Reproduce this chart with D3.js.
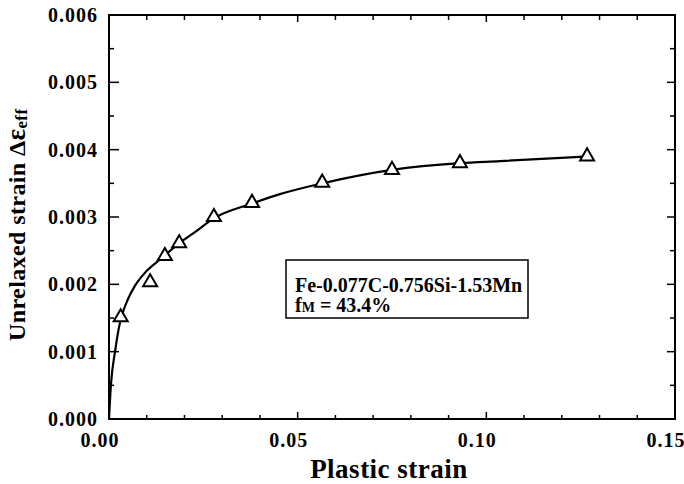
<!DOCTYPE html>
<html>
<head>
<meta charset="UTF-8">
<script src="https://d3js.org/d3.v7.min.js"></script>
<style>
  body { margin: 0; background: #fff; }
  svg { display: block; }
  text { font-family: "Liberation Serif", "Times New Roman", serif; font-weight: bold; fill: #000; }
</style>
</head>
<body>
<svg width="684" height="484"></svg>
<script>
// measured points (triangles)
const strainX = [0.0031, 0.0109, 0.0148, 0.0186, 0.0278, 0.0379, 0.0565, 0.075, 0.093, 0.1267];
const strainY = [0.00151, 0.00203, 0.00242, 0.00261, 0.0030, 0.00321, 0.00351, 0.0037, 0.0038, 0.0039];

// fitted curve
const fitX = [0, 0.0005, 0.0016, 0.0025, 0.0051, 0.0069, 0.0095, 0.0131, 0.0186, 0.0224, 0.0278, 0.0379, 0.0453, 0.0565, 0.075, 0.093, 0.1036, 0.1267];
const fitY = [0, 0.0005, 0.001, 0.00132, 0.00179, 0.00198, 0.00217, 0.00235, 0.00261, 0.00276, 0.00298, 0.0032, 0.00334, 0.0035, 0.0037, 0.0038, 0.00383, 0.0039];

const xTicks = [0, 0.05, 0.10, 0.15];
const yTicks = [0, 0.001, 0.002, 0.003, 0.004, 0.005, 0.006];
const legendLines = ["Fe-0.077C-0.756Si-1.53Mn", "= 43.4%"];

const W = 684, H = 484;
const m = { top: 15, right: 9, bottom: 65, left: 109 };
const svg = d3.select("svg");

const x = d3.scaleLinear().domain([0, 0.15]).range([m.left, W - m.right]);
const y = d3.scaleLinear().domain([0, 0.006]).range([H - m.bottom, m.top]);

const g = svg.append("g");

// ticks, all pointing inward
const xMinor = d3.range(0, 0.1501, 0.01);
const yMinor = d3.range(0, 0.00601, 0.0005);
const isMajorX = v => Math.abs(v / 0.05 - Math.round(v / 0.05)) < 1e-6;
const isMajorY = v => Math.abs(v / 0.001 - Math.round(v / 0.001)) < 1e-6;

g.selectAll(".xtb").data(xMinor).enter().append("line")
  .attr("x1", d => x(d)).attr("x2", d => x(d))
  .attr("y1", y(0)).attr("y2", d => y(0) - (isMajorX(d) ? 7 : 4))
  .attr("stroke", "#000").attr("stroke-width", 1.5);
g.selectAll(".xtt").data(xMinor).enter().append("line")
  .attr("x1", d => x(d)).attr("x2", d => x(d))
  .attr("y1", y(0.006)).attr("y2", d => y(0.006) + (isMajorX(d) ? 7 : 5))
  .attr("stroke", "#000").attr("stroke-width", 1.5);
g.selectAll(".ytl").data(yMinor).enter().append("line")
  .attr("y1", d => y(d)).attr("y2", d => y(d))
  .attr("x1", x(0)).attr("x2", d => x(0) + (isMajorY(d) ? 10 : 5))
  .attr("stroke", "#000").attr("stroke-width", 1.5);
g.selectAll(".ytr").data(yMinor).enter().append("line")
  .attr("y1", d => y(d)).attr("y2", d => y(d))
  .attr("x1", x(0.15)).attr("x2", d => x(0.15) - (isMajorY(d) ? 8 : 5))
  .attr("stroke", "#000").attr("stroke-width", 1.5);

// frame
g.append("rect")
  .attr("x", x(0)).attr("y", y(0.006))
  .attr("width", x(0.15) - x(0)).attr("height", y(0) - y(0.006))
  .attr("fill", "none").attr("stroke", "#000").attr("stroke-width", 2);

// tick labels
g.selectAll(".xl").data(xTicks).enter().append("text")
  .attr("x", d => x(d) - 9).attr("y", y(0) + 28)
  .attr("text-anchor", "middle").attr("font-size", 20).attr("letter-spacing", 1)
  .text(d => d.toFixed(2));
g.selectAll(".yl").data(yTicks).enter().append("text")
  .attr("x", x(0) - 11).attr("y", d => y(d) + 7)
  .attr("text-anchor", "end").attr("font-size", 20).attr("letter-spacing", 1)
  .text(d => d.toFixed(3));

// axis titles
svg.append("text")
  .attr("x", 389).attr("y", 478)
  .attr("text-anchor", "middle").attr("font-size", 27).attr("letter-spacing", 0.5)
  .text("Plastic strain");

const yt = svg.append("text")
  .attr("transform", "translate(25,341) rotate(-90)")
  .attr("font-size", 24).attr("letter-spacing", 0.4);
yt.append("tspan").text("Unrelaxed strain \u0394");
yt.append("tspan").attr("font-size", 27).text("\u03b5");
yt.append("tspan").attr("font-size", 17).attr("dy", 2).text("eff");

// fitted curve
const fit = fitX.map((v, i) => [v, fitY[i]]);
g.append("path")
  .datum(fit)
  .attr("fill", "none").attr("stroke", "#000").attr("stroke-width", 2.2)
  .attr("d", d3.line().x(d => x(d[0])).y(d => y(d[1])).curve(d3.curveMonotoneX));

// triangles
const pts = strainX.map((v, i) => [v, strainY[i]]);
g.selectAll(".pt").data(pts).enter().append("path")
  .attr("transform", d => `translate(${x(d[0])},${y(d[1])})`)
  .attr("d", d3.symbol(d3.symbolTriangle, 85))
  .attr("fill", "#fff").attr("stroke", "#000").attr("stroke-width", 2);

// legend box
g.append("rect")
  .attr("x", 286).attr("y", 260).attr("width", 242).attr("height", 58)
  .attr("fill", "#fff").attr("stroke", "#000").attr("stroke-width", 1.5);
svg.append("text")
  .attr("x", 295).attr("y", 292).attr("font-size", 20)
  .text(legendLines[0]);
const l2 = svg.append("text")
  .attr("x", 295).attr("y", 312).attr("font-size", 20);
l2.append("tspan").text("f");
l2.append("tspan").attr("font-size", 14).text("M");
l2.append("tspan").text(" " + legendLines[1]);
</script>
</body>
</html>
